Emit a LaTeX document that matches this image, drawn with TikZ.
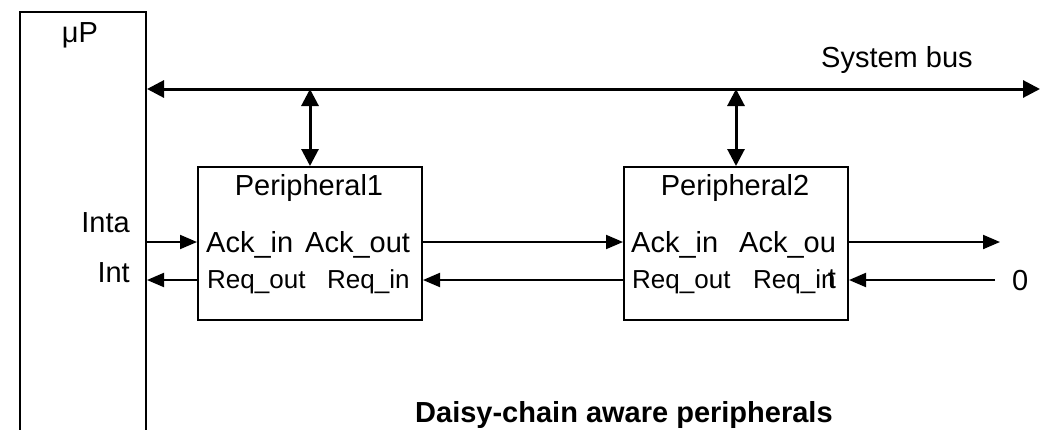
\documentclass[tikz,border=0pt]{standalone}
\usepackage{fontspec}
\setmainfont{Liberation Sans}
\usetikzlibrary{arrows.meta}
\begin{document}
\begin{tikzpicture}[x=1pt,y=-1pt,
  box/.style={draw, line width=2pt, inner sep=0pt, anchor=north west},
  lbl/.style={inner sep=0pt, font=\fontsize{29}{31}\selectfont},
  small/.style={inner sep=0pt, font=\fontsize{26}{28}\selectfont},
  arr/.style={line width=2pt, -{Triangle[length=17pt,width=14pt]}},
  busarr/.style={line width=3pt, {Triangle[length=17pt,width=17pt]}-{Triangle[length=17pt,width=17pt]}}]
\useasboundingbox (0,0) rectangle (1052,429);

% processor column, running off the bottom edge
\node[box, minimum width=126pt, minimum height=440pt] (up) at (19,11) {};
\node[lbl, anchor=base] (uplabel) at (80,42) {μP};

% peripherals
\node[box, minimum width=224pt, minimum height=153pt] (p1) at (197,166) {};
\node[box, minimum width=224pt, minimum height=153pt] (p2) at (623,166) {};

% system bus
\coordinate (busR) at (1040,89);
\draw[busarr] (busR -| up.east) -- (busR);
\node[lbl, anchor=base west] (buslabel) at (821,67) {System bus};
\draw[busarr] (p1.north |- busR) -- (p1.north);
\draw[busarr] (p2.north |- busR) -- (p2.north);

% daisy chain rows
\coordinate (ackrow) at (0,242);
\coordinate (reqrow) at (0,280);
\coordinate (ackend) at (1000,242);
\coordinate (reqstart) at (995,280);
\draw[arr] (up.east |- ackrow) -- (p1.west |- ackrow);
\draw[arr] (p1.east |- ackrow) -- (p2.west |- ackrow);
\draw[arr] (p2.east |- ackrow) -- (ackend);
\draw[arr] (p1.west |- reqrow) -- (up.east |- reqrow);
\draw[arr] (p2.west |- reqrow) -- (p1.east |- reqrow);
\draw[arr] (reqstart) -- (p2.east |- reqrow);

% signal names at the processor
\node[lbl, anchor=base east] (inta) at (130,232) {Inta};
\node[lbl, anchor=base east] (int) at (130,282) {Int};
\node[lbl, anchor=base west] (zero) at (1012,290) {0};

% peripheral 1 labels
\node[lbl, anchor=base] (p1name) at (309,195) {Peripheral1};
\node[lbl, anchor=base west] (p1ackin) at (206,252) {Ack\_in};
\node[lbl, anchor=base west] (p1ackout) at (305,252) {Ack\_out};
\node[small, anchor=base west] (p1reqout) at (207,288) {Req\_out};
\node[small, anchor=base west] (p1reqin) at (327,288) {Req\_in};

% peripheral 2 labels
\node[lbl, anchor=base] (p2name) at (735,195) {Peripheral2};
\node[lbl, anchor=base west] (p2ackin) at (631,252) {Ack\_in};
\node[lbl, anchor=base west] (p2ackout) at (739,252) {Ack\_ou};
\node[small, anchor=base west] (p2reqout) at (632,288) {Req\_out};
\node[small, anchor=base west] (p2reqin) at (753,288) {Req\_in};
\node[lbl, anchor=base east] (p2t) at (836,288) {t};

% caption
\node[inner sep=0pt, anchor=base west, font=\fontsize{29}{31}\selectfont\bfseries] (caption) at (415,422) {Daisy-chain aware peripherals};
\end{tikzpicture}
\end{document}
